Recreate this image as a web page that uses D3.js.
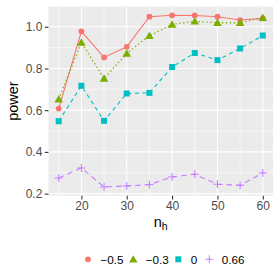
<!DOCTYPE html>
<html>
<head>
<meta charset="utf-8">
<script src="https://cdn.jsdelivr.net/npm/d3@7"></script>
<style>
  body { margin: 0; background: #fff; }
  text { font-family: "Liberation Sans", Arial, sans-serif; }
</style>
</head>
<body>
<div class="container"></div>
<script>
var nh = [15, 20, 25, 30, 35, 40, 45, 50, 55, 60];
var groups = ["\u22120.5", "\u22120.3", "0", "0.66"];
var powerA = [0.608, 0.978, 0.853, 0.904, 1.048, 1.055, 1.054, 1.048, 1.032, 1.040];
var powerB = [0.653, 0.925, 0.752, 0.872, 0.957, 1.011, 1.026, 1.019, 1.019, 1.043];
var powerC = [0.547, 0.717, 0.549, 0.680, 0.683, 0.807, 0.874, 0.840, 0.896, 0.958];
var powerD = [0.275, 0.323, 0.232, 0.237, 0.243, 0.280, 0.293, 0.245, 0.240, 0.299];
var xTicks = [20, 30, 40, 50, 60];
var yTicks = [0.2, 0.4, 0.6, 0.8, 1.0];

var colors = ["#F8766D", "#7CAE00", "#00BFC4", "#C77CFF"];
var dashes = [null, "1.3,2.6", "4,3.5", "5.5,4"];
var shapes = [d3.symbolCircle, d3.symbolTriangle, d3.symbolSquare, null];
var series = [powerA, powerB, powerC, powerD];

var margin = {top: 6.5, right: 7, bottom: 84.3, left: 48.5},
  width = 280 - margin.left - margin.right,
  height = 280 - margin.top - margin.bottom;

var svg = d3.select(".container")
  .append("svg")
    .attr("width", 280)
    .attr("height", 280)
  .append("g")
    .attr("transform", "translate(" + margin.left + "," + margin.top + ")");

var x = d3.scaleLinear().domain([12.75, 62.25]).range([0, width]);
var y = d3.scaleLinear().domain([0.19, 1.097]).range([height, 0]);

svg.append("rect")
  .attr("width", width)
  .attr("height", height)
  .attr("fill", "#ebebeb");

// minor grid
[15, 25, 35, 45, 55].forEach(function(v) {
  svg.append("line").attr("x1", x(v)).attr("x2", x(v)).attr("y1", 0).attr("y2", height)
    .attr("stroke", "#fff").attr("stroke-width", 0.55);
});
[0.3, 0.5, 0.7, 0.9].forEach(function(v) {
  svg.append("line").attr("y1", y(v)).attr("y2", y(v)).attr("x1", 0).attr("x2", width)
    .attr("stroke", "#fff").attr("stroke-width", 0.55);
});
// major grid
xTicks.forEach(function(v) {
  svg.append("line").attr("x1", x(v)).attr("x2", x(v)).attr("y1", 0).attr("y2", height)
    .attr("stroke", "#fff").attr("stroke-width", 1.1);
});
yTicks.forEach(function(v) {
  svg.append("line").attr("y1", y(v)).attr("y2", y(v)).attr("x1", 0).attr("x2", width)
    .attr("stroke", "#fff").attr("stroke-width", 1.1);
});

// axes
var xAxis = svg.append("g")
  .attr("transform", "translate(0," + height + ")")
  .call(d3.axisBottom(x).tickValues(xTicks).tickSize(3.7).tickPadding(2.5));
var yAxis = svg.append("g")
  .call(d3.axisLeft(y).tickValues(yTicks).tickSize(3.7).tickPadding(2.5).tickFormat(d3.format(".1f")));
[xAxis, yAxis].forEach(function(a) {
  a.select(".domain").remove();
  a.selectAll(".tick line").attr("stroke", "#333").attr("stroke-width", 1.1);
  a.selectAll(".tick text").attr("fill", "#4d4d4d").style("font-size", "12px")
    .style("font-family", "'Liberation Sans', Arial, sans-serif");
});

// lines and points
var line = d3.line().x(function(d, i) { return x(nh[i]); }).y(function(d) { return y(d); });
series.forEach(function(s, k) {
  svg.append("path")
    .datum(s)
    .attr("d", line)
    .attr("fill", "none")
    .attr("stroke", colors[k])
    .attr("stroke-width", k === 1 ? 1.3 : 1.1)
    .attr("stroke-dasharray", dashes[k]);
});

function drawShape(g, k, cx, cy) {
  if (shapes[k]) {
    var size = k === 0 ? 26 : (k === 1 ? 32 : 36);
    var dy = k === 1 ? 0.8 : 0;
    g.append("path")
      .attr("d", d3.symbol().type(shapes[k]).size(size)())
      .attr("transform", "translate(" + cx + "," + (cy + dy) + ")")
      .attr("fill", colors[k]);
  } else {
    g.append("path")
      .attr("d", "M" + (cx - 4) + "," + cy + "H" + (cx + 4) + "M" + cx + "," + (cy - 4) + "V" + (cy + 4))
      .attr("stroke", colors[k])
      .attr("stroke-width", 1);
  }
}
series.forEach(function(s, k) {
  s.forEach(function(v, i) { drawShape(svg, k, x(nh[i]), y(v)); });
});

// axis titles
svg.append("text")
  .attr("x", width / 2)
  .attr("y", height + 31)
  .attr("text-anchor", "middle")
  .style("font-size", "14.5px")
  .attr("fill", "#000")
  .html("n<tspan dy='3' style='font-size:10.5px'>h</tspan>");

svg.append("text")
  .attr("transform", "translate(" + (-31) + "," + (height / 2) + ")rotate(-90)")
  .attr("text-anchor", "middle")
  .style("font-size", "14.5px")
  .attr("fill", "#000")
  .text("power");

// legend
var legend = d3.select("svg").append("g");
var keyX = [88, 133.3, 178.3, 209.3];
var legY = 259.3;
groups.forEach(function(g, k) {
  drawShape(legend, k, keyX[k], legY);
  legend.append("text")
    .attr("x", keyX[k] + 12.5)
    .attr("y", legY + 4.2)
    .style("font-size", "11.7px")
    .attr("fill", "#000")
    .text(g);
});
</script>
</body>
</html>
